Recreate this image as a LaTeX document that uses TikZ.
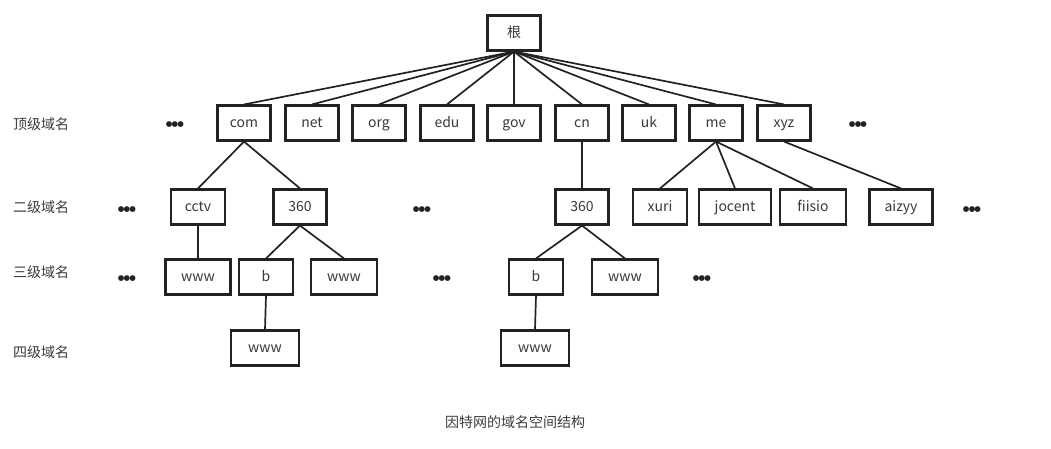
\documentclass[tikz,border=0pt]{standalone}
\usepackage{fontspec}
\setmainfont{Noto Sans CJK SC}
\newfontfamily\dotfont{DejaVu Sans}
\definecolor{txt}{HTML}{3A3A3A}
\definecolor{edge}{HTML}{222222}
\tikzset{
  box/.style={draw=edge, line width=2.1pt, fill=white, minimum height=35pt, minimum width=53pt, inner sep=0pt, text=txt, font=\fontsize{14}{14}\selectfont, text height=11.5pt, text depth=2pt},
  conn/.style={draw=edge, line width=1.7pt},
  lvl/.style={text=txt, font=\fontsize{14}{14}\selectfont, inner sep=0pt, anchor=west},
  dotsn/.style={text=edge, font=\dotfont\fontsize{7.5}{8}\selectfont, inner sep=0pt},
  captext/.style={text=txt, font=\fontsize{14}{14}\selectfont, inner sep=0pt}
}
\newcommand{\tdots}{●\kern-0.8pt●\kern-0.8pt●}
\begin{document}
\begin{tikzpicture}[x=1pt,y=-1pt]
\useasboundingbox (0,0) rectangle (1051,449);
% root
\node[box] (root) at (514,33) {根};
% top level
\node[box] (com) at (244,123) {com};
\node[box] (net) at (312,123) {net};
\node[box] (org) at (379,123) {org};
\node[box] (edu) at (447,123) {edu};
\node[box] (gov) at (514,123) {gov};
\node[box] (cn)  at (582,123) {cn};
\node[box] (uk)  at (649,123) {uk};
\node[box] (me)  at (716,123) {me};
\node[box] (xyz) at (784,123) {xyz};
% second level
\node[box, minimum width=54pt] (cctv) at (198,207) {cctv};
\node[box] (s360a) at (300,207) {360};
\node[box] (s360b) at (582,207) {360};
\node[box, minimum width=54pt] (xuri) at (660,207) {xuri};
\node[box, minimum width=72pt] (jocent) at (735,207) {jocent};
\node[box, minimum width=66pt] (fiisio) at (813,207) {fiisio};
\node[box, minimum width=63pt] (aizyy) at (901,207) {aizyy};
% third level
\node[box, minimum width=65pt] (w1) at (198,277) {www};
\node[box, minimum width=54pt] (b1) at (266,277) {b};
\node[box, minimum width=66pt] (w2) at (344,277) {www};
\node[box, minimum width=54pt] (b2) at (536,277) {b};
\node[box, minimum width=66pt] (w3) at (625,277) {www};
% fourth level
\node[box, minimum width=68pt] (w4) at (265,348) {www};
\node[box, minimum width=68pt] (w5) at (535,348) {www};
% connectors
\foreach \c in {com,net,org,edu,gov,cn,uk,me,xyz}
  \draw[conn] (root.south) -- (\c.north);
\draw[conn] (com.south) -- (cctv.north);
\draw[conn] (com.south) -- (s360a.north);
\draw[conn] (cn.south) -- (s360b.north);
\draw[conn] (me.south) -- (xuri.north);
\draw[conn] (me.south) -- (jocent.north);
\draw[conn] (me.south) -- (fiisio.north);
\draw[conn] (xyz.south) -- (aizyy.north);
\draw[conn] (cctv.south) -- (w1.north);
\draw[conn] (s360a.south) -- (b1.north);
\draw[conn] (s360a.south) -- (w2.north);
\draw[conn] (s360b.south) -- (b2.north);
\draw[conn] (s360b.south) -- (w3.north);
\draw[conn] (b1.south) -- (w4.north);
\draw[conn] (b2.south) -- (w5.north);
% level labels
\node[lvl] (l1) at (13,124) {顶级域名};
\node[lvl] (l2) at (13,207) {二级域名};
\node[lvl] (l3) at (13,272) {三级域名};
\node[lvl] (l4) at (13,352) {四级域名};
% ellipsis dots
\node[dotsn] (d1) at (175,125) {\tdots};
\node[dotsn] (d2) at (858,125) {\tdots};
\node[dotsn] (d3) at (127,210) {\tdots};
\node[dotsn] (d4) at (422,210) {\tdots};
\node[dotsn] (d5) at (972,210) {\tdots};
\node[dotsn] (d6) at (127,279) {\tdots};
\node[dotsn] (d7) at (442,279) {\tdots};
\node[dotsn] (d8) at (702,279) {\tdots};
% caption
\node[captext] (caption) at (515,422) {因特网的域名空间结构};
\end{tikzpicture}
\end{document}
